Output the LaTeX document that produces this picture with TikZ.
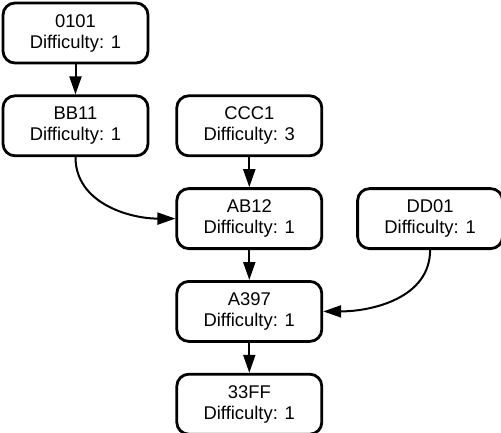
\documentclass[tikz,border=0pt]{standalone}
\usepackage{fontspec}
\setmainfont{Liberation Sans}
\usetikzlibrary{positioning, arrows.meta}

\begin{document}
\begin{tikzpicture}[
        x=1pt, y=1pt,
        node distance=30pt and 26pt,
        >={Triangle[length=18pt,width=12pt]},
        font=\fontsize{18.4}{21}\selectfont,
        % task boxes
        task/.style={rectangle, rounded corners=12pt, draw=black, line width=2.8pt, minimum width=145pt, minimum height=60pt, align=center, inner sep=2pt},
        arrow/.style={line width=2pt, ->}
    ]
    \useasboundingbox (0,0) rectangle (501,-432);

    % --- boxes ---
    \node[task] (n0101) at (75.5,-33) {0101\\Difficulty: 1};
    \node[task, below=of n0101] (bb11) {BB11\\Difficulty: 1};
    \node[task, right=of bb11] (ccc1) {CCC1\\Difficulty: 3};
    \node[task, below=of ccc1] (ab12) {AB12\\Difficulty: 1};
    \node[task, right=33pt of ab12] (dd01) {DD01\\Difficulty: 1};
    \node[task, below=of ab12] (a397) {A397\\Difficulty: 1};
    \node[task, below=of a397] (n33ff) {33FF\\Difficulty: 1};

    % --- straight arrows ---
    \draw[arrow] (n0101) -- (bb11);
    \draw[arrow] (ccc1) -- (ab12);
    \draw[arrow] (ab12) -- (a397);
    \draw[arrow] (a397) -- (n33ff);

    % --- curved arrows ---
    \draw[arrow] (bb11.south) to[out=-90, in=180] (ab12.west);
    \draw[arrow] (dd01.south) to[out=-90, in=0] (a397.east);

\end{tikzpicture}
\end{document}
